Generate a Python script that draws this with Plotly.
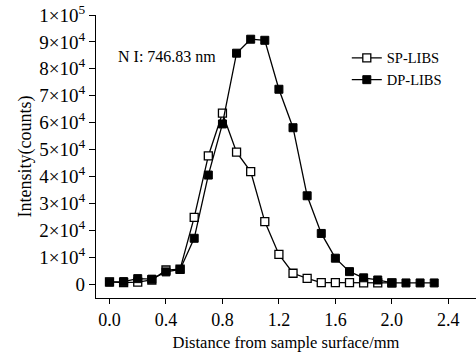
import plotly.graph_objects as go

distance_sp = [0.0, 0.1, 0.2, 0.3, 0.4, 0.5, 0.6, 0.7, 0.8, 0.9, 1.0, 1.1, 1.2, 1.3, 1.4, 1.5, 1.6, 1.7, 1.8, 1.9, 2.0]
sp_libs = [800, 500, 700, 1500, 5200, 5500, 24800, 47600, 63500, 49000, 41800, 23200, 11000, 4000, 2100, 500, 500, 500, 400, 400, 400]

distance_dp = [0.0, 0.1, 0.2, 0.3, 0.4, 0.5, 0.6, 0.7, 0.8, 0.9, 1.0, 1.1, 1.2, 1.3, 1.4, 1.5, 1.6, 1.7, 1.8, 1.9, 2.0, 2.1, 2.2, 2.3]
dp_libs = [700, 900, 2000, 1800, 4500, 5400, 17000, 40500, 59500, 85800, 91000, 90600, 72400, 58100, 32800, 18800, 9600, 4600, 2300, 1500, 400, 400, 400, 400]

x_ticks = [0.0, 0.4, 0.8, 1.2, 1.6, 2.0, 2.4]
y_ticks = [0, 10000, 20000, 30000, 40000, 50000, 60000, 70000, 80000, 90000, 100000]
y_ticktext = ["0"] + [f"{i}×10<sup>4</sup>" for i in range(1, 10)] + ["1×10<sup>5</sup>"]

font = "Liberation Serif, Times New Roman, serif"

fig = go.Figure()
fig.add_trace(go.Scatter(
    x=distance_sp, y=sp_libs, mode="lines+markers", name="SP-LIBS",
    line=dict(color="black", width=1.3),
    marker=dict(symbol="square", size=8, color="white", line=dict(color="black", width=1.3)),
))
fig.add_trace(go.Scatter(
    x=distance_dp, y=dp_libs, mode="lines+markers", name="DP-LIBS",
    line=dict(color="black", width=1.3),
    marker=dict(symbol="square", size=8, color="black", line=dict(color="black", width=1)),
))

fig.add_annotation(x=0.046, y=84400, xref="x", yref="y", text="N I: 746.83 nm",
                   showarrow=False, xanchor="left", yanchor="middle",
                   font=dict(family=font, size=16, color="black"))

fig.update_layout(
    width=476, height=353,
    margin=dict(l=96, r=0, t=15, b=55, autoexpand=False),
    paper_bgcolor="white", plot_bgcolor="white",
    font=dict(family=font, size=17, color="black"),
    showlegend=True,
    legend=dict(x=0.66, y=0.905, xanchor="left", yanchor="top",
                font=dict(family=font, size=14.5, color="black"),
                bgcolor="rgba(0,0,0,0)", tracegroupgap=0, itemwidth=30),
    xaxis=dict(range=[-0.0956, 2.596], tickvals=x_ticks, ticktext=[f"{v:.1f}" for v in x_ticks],
               showgrid=False, zeroline=False, showline=True, linecolor="black", linewidth=1.3,
               ticks="outside", ticklen=5, tickcolor="black", tickwidth=1.3, automargin=False,
               ticklabeloverflow="allow",
               title=dict(text="Distance from sample surface/mm", font=dict(family=font, size=16.5), standoff=7),
               tickfont=dict(family=font, size=18)),
    yaxis=dict(range=[-5200, 100000], tickvals=y_ticks, ticktext=y_ticktext,
               showgrid=False, zeroline=False, showline=True, linecolor="black", linewidth=1.3,
               ticks="outside", ticklen=6, tickcolor="black", tickwidth=1.3, automargin=False,
               ticklabeloverflow="allow",
               title=dict(text="Intensity(counts)", font=dict(family=font, size=18), standoff=2),
               tickfont=dict(family=font, size=19)),
)

fig.write_html("out.html", config={"displayModeBar": False},
               post_script="document.body.style.margin='0';document.body.style.overflow='hidden';")
